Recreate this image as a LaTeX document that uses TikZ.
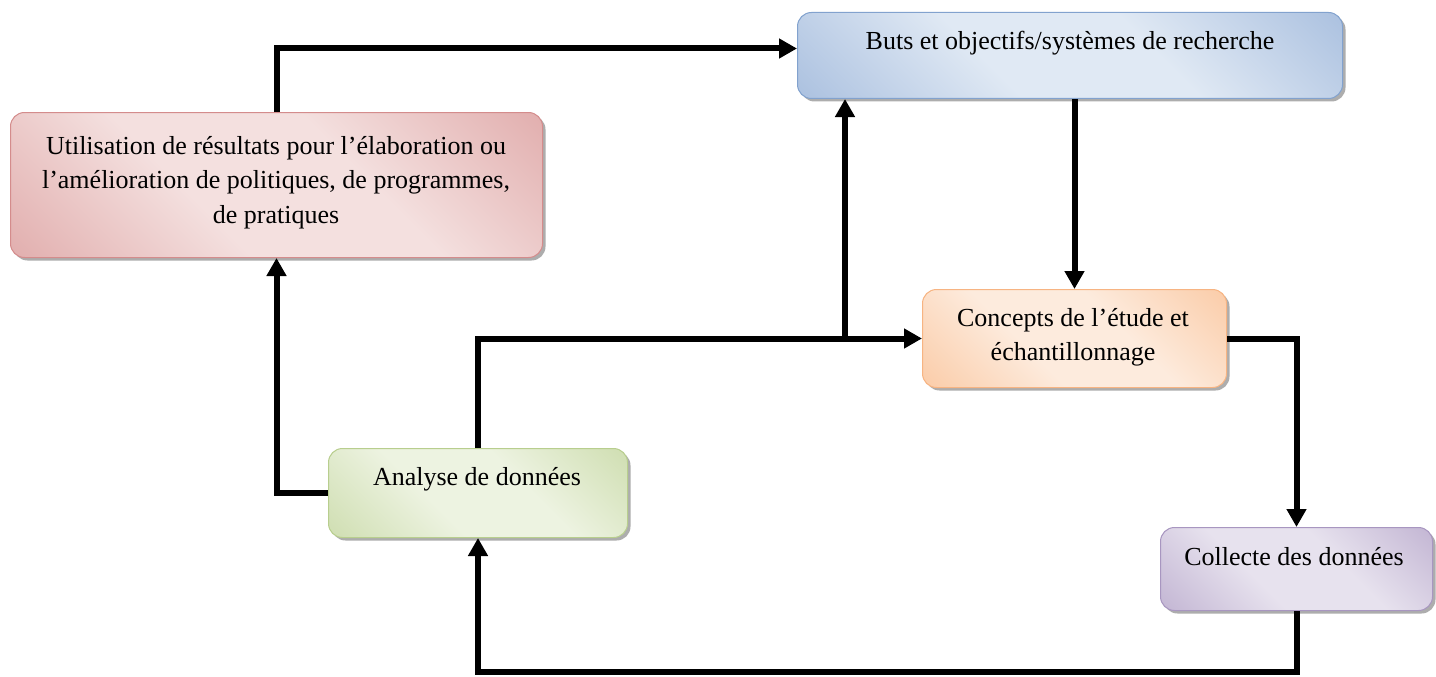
\documentclass[tikz,border=0pt]{standalone}
\usepackage{fontspec}
\setmainfont{Liberation Serif}
\usetikzlibrary{arrows.meta,shadows}

% box colours: edge tone, centre tone, outline
\definecolor{bluedark}{RGB}{141,170,212}
\definecolor{bluelight}{RGB}{224,233,244}
\definecolor{blueline}{RGB}{130,162,206}
\definecolor{reddark}{RGB}{215,146,146}
\definecolor{redlight}{RGB}{244,224,223}
\definecolor{redline}{RGB}{212,140,140}
\definecolor{orangedark}{RGB}{249,186,138}
\definecolor{orangelight}{RGB}{253,235,221}
\definecolor{orangeline}{RGB}{247,180,130}
\definecolor{greendark}{RGB}{190,210,150}
\definecolor{greenlight}{RGB}{237,243,225}
\definecolor{greenline}{RGB}{184,206,142}
\definecolor{purpledark}{RGB}{174,156,196}
\definecolor{purplelight}{RGB}{231,226,238}
\definecolor{purpleline}{RGB}{168,150,192}

% diagonal dark-light-dark fills
\pgfdeclarehorizontalshading{blueshade}{100bp}{color(0bp)=(bluedark); color(40bp)=(bluelight); color(60bp)=(bluelight); color(100bp)=(bluedark)}
\pgfdeclarehorizontalshading{redshade}{100bp}{color(0bp)=(reddark); color(40bp)=(redlight); color(60bp)=(redlight); color(100bp)=(reddark)}
\pgfdeclarehorizontalshading{orangeshade}{100bp}{color(0bp)=(orangedark); color(40bp)=(orangelight); color(60bp)=(orangelight); color(100bp)=(orangedark)}
\pgfdeclarehorizontalshading{greenshade}{100bp}{color(0bp)=(greendark); color(40bp)=(greenlight); color(60bp)=(greenlight); color(100bp)=(greendark)}
\pgfdeclarehorizontalshading{purpleshade}{100bp}{color(0bp)=(purpledark); color(40bp)=(purplelight); color(60bp)=(purplelight); color(100bp)=(purpledark)}

\tikzset{
  box/.style={rectangle, rounded corners=14pt, inner sep=0pt, anchor=north west,
    line width=1pt, shading angle=45,
    drop shadow={shadow xshift=3pt, shadow yshift=-3pt, fill=black!40, opacity=0.8}},
  boxtext/.style={inner sep=0pt, align=center, font=\fontsize{26}{34.5}\selectfont},
  link/.style={line width=6pt, -{Triangle[width=19pt,length=18pt]}},
}

\begin{document}
\begin{tikzpicture}[x=1pt, y=-1pt]
\useasboundingbox (0,0) rectangle (1436,677);
\fill[white] (0,0) rectangle (1436,677);

% boxes
\node[box, draw=blueline, shading=blueshade, minimum width=545pt, minimum height=86pt] (blue) at (797,12) {};
\node[box, draw=redline, shading=redshade, minimum width=532pt, minimum height=145pt] (red) at (10,112) {};
\node[box, draw=orangeline, shading=orangeshade, minimum width=304pt, minimum height=98pt] (orange) at (922,289) {};
\node[box, draw=greenline, shading=greenshade, minimum width=299pt, minimum height=89pt] (green) at (328,448) {};
\node[box, draw=purpleline, shading=purpleshade, minimum width=272pt, minimum height=83pt] (purple) at (1160,527) {};

% box texts
\node[boxtext, anchor=base] (bluetxt) at (1070,50) {Buts et objectifs/systèmes de recherche};
\node[boxtext, anchor=north] (redtxt) at (276,136) {Utilisation de résultats pour l’élaboration ou\\l’amélioration de politiques, de programmes,\\de pratiques};
\node[boxtext, anchor=north] (orangetxt) at (1073,308) {Concepts de l’étude et\\échantillonnage};
\node[boxtext, anchor=base] (greentxt) at (477,485) {Analyse de données};
\node[boxtext, anchor=base] (purpletxt) at (1294,565) {Collecte des données};

% connectors
\coordinate (split) at (845,338);
\coordinate (rail) at (900,672);
\draw[link] (red.north) |- ([yshift=7pt]blue.west);
\draw[link] (orange.north |- blue.south) -- (orange.north);
\draw[link] (green.north) |- (orange.west);
\draw[link] (split) -- (split |- blue.south);
\draw[link] (orange.east) -| (purple.north);
\draw[link] (purple.south) |- (rail) -| (green.south);
\draw[link] (green.west) -| (red.south);
\end{tikzpicture}
\end{document}
